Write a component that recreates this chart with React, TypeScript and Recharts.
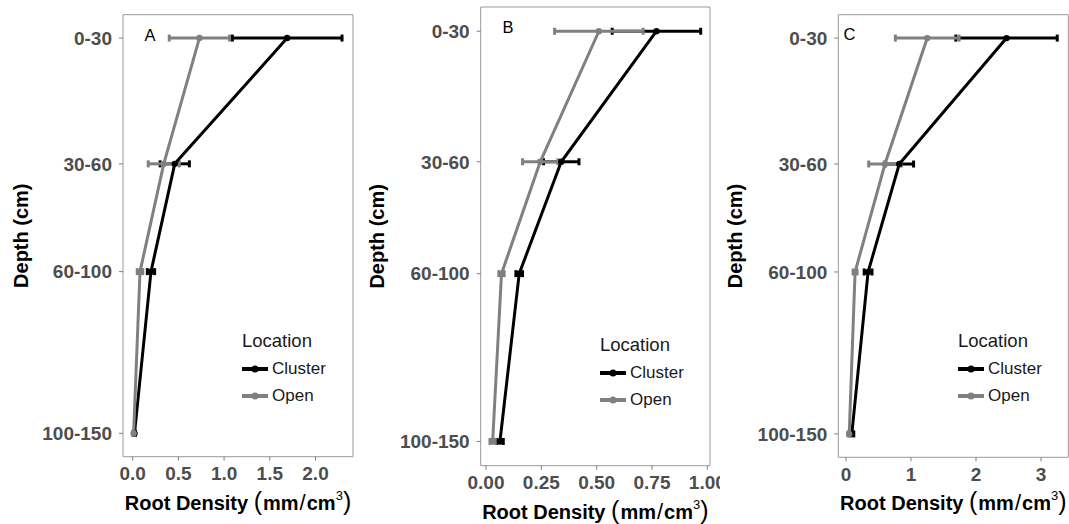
import React from 'react';
import {
  ScatterChart,
  Scatter,
  XAxis,
  YAxis,
  ErrorBar,
  ReferenceArea,
  ReferenceDot,
  Legend,
} from 'recharts';

// depth classes and their (uneven) spacing on the y scale
const depthLabels = ['0-30', '30-60', '60-100', '100-150'];
const depthSteps = [0, 7, 13, 22];

// Panel A
const clusterMeanA = [1.69, 0.46, 0.2, 0.02];
const clusterErrA = [0.6, 0.16, 0.04, 0.01];
const openMeanA = [0.73, 0.34, 0.08, 0.01];
const openErrA = [0.33, 0.17, 0.03, 0.01];
const xTicksA = [0, 0.5, 1, 1.5, 2];

// Panel B
const clusterMeanB = [0.77, 0.34, 0.15, 0.063];
const clusterErrB = [0.2, 0.08, 0.015, 0.015];
const openMeanB = [0.51, 0.245, 0.07, 0.03];
const openErrB = [0.2, 0.08, 0.012, 0.012];
const xTicksB = [0, 0.25, 0.5, 0.75, 1];

// Panel C
const clusterMeanC = [2.47, 0.82, 0.34, 0.09];
const clusterErrC = [0.78, 0.22, 0.06, 0.03];
const openMeanC = [1.25, 0.6, 0.14, 0.05];
const openErrC = [0.49, 0.25, 0.03, 0.02];
const xTicksC = [0, 1, 2, 3];

const seriesNames = ['Cluster', 'Open'];
const seriesColors = ['#000000', '#808080'];

const FONT = '"Liberation Sans", Arial, Helvetica, sans-serif';
const Y_DOMAIN: [number, number] = [-1.3, 23.3];

const build = (means: number[], errs: number[]) =>
  means.map((v, i) => ({ x: v, err: errs[i], depth: depthSteps[i] }));

const XTitle = ({ viewBox }: any) => {
  const cx = viewBox.x + viewBox.width / 2;
  const y = viewBox.y + 53;
  return (
    <text x={cx} y={y} textAnchor="middle" fontFamily={FONT} fill="#000">
      <tspan fontWeight="bold" fontSize={20}>Root Density </tspan>
      <tspan fontSize={25}>(</tspan>
      <tspan fontWeight="bold" fontSize={20} dx={1}>mm</tspan>
      <tspan fontSize={22} dx={1}>/</tspan>
      <tspan fontWeight="bold" fontSize={20} dx={1}>cm</tspan>
      <tspan fontSize={13} dy={-10}>3</tspan>
      <tspan fontSize={25} dy={10}>)</tspan>
    </text>
  );
};

const YTitle = ({ viewBox }: any) => {
  const x = viewBox.x + 28.5;
  const y = viewBox.y + viewBox.height / 2;
  return (
    <text
      x={x}
      y={y}
      transform={`rotate(-90, ${x}, ${y})`}
      textAnchor="middle"
      fontFamily={FONT}
      fontWeight="bold"
      fontSize={20}
      fill="#000"
    >
      Depth (cm)
    </text>
  );
};

const LegendBox = () => (
  <div style={{ fontFamily: FONT, color: '#1a1a1a' }}>
    <div style={{ fontSize: 18.5, height: 24, lineHeight: '24px', marginBottom: 2 }}>Location</div>
    {seriesNames.map((name, i) => (
      <div key={name} style={{ display: 'flex', alignItems: 'center', height: 27 }}>
        <svg width={26} height={10} style={{ marginRight: 4 }}>
          <line x1={0} y1={5} x2={26} y2={5} stroke={seriesColors[i]} strokeWidth={4} />
          <circle cx={13} cy={5} r={3.5} fill={seriesColors[i]} />
        </svg>
        <span style={{ fontSize: 17 }}>{name}</span>
      </div>
    ))}
  </div>
);

const Dot = (color: string) => (p: any) => <circle cx={p.cx} cy={p.cy} r={3.2} fill={color} />;

type PanelProps = {
  letter: string;
  letterAt: [number, number];
  left: number;
  width: number;
  margin: { top: number; right: number; bottom: number; left: number };
  yWidth: number;
  xDomain: [number, number];
  xTicks: number[];
  digits: number;
  series: { x: number; err: number; depth: number }[][];
  legendAt: [number, number];
};

const Panel = ({ letter, letterAt, left, width, margin, yWidth, xDomain, xTicks, digits, series, legendAt }: PanelProps) => (
  <div style={{ position: 'absolute', left, top: 0 }}>
    <ScatterChart width={width} height={524} margin={margin}>
      <XAxis
        type="number"
        dataKey="x"
        domain={xDomain}
        ticks={xTicks}
        allowDataOverflow
        interval={0}
        height={55}
        axisLine={false}
        tickSize={4}
        tickMargin={6}
        tickLine={{ stroke: '#7f7f7f' }}
        tickFormatter={(v: number) => v.toFixed(digits)}
        tick={{ fill: '#4d4d4d', fontSize: 19, fontWeight: 'bold', fontFamily: FONT }}
        label={<XTitle />}
      />
      <YAxis
        type="number"
        dataKey="depth"
        reversed
        domain={Y_DOMAIN}
        ticks={depthSteps}
        allowDataOverflow
        interval={0}
        width={yWidth}
        axisLine={false}
        tickSize={4}
        tickMargin={7}
        tickLine={{ stroke: '#7f7f7f' }}
        tickFormatter={(v: number) => depthLabels[depthSteps.indexOf(v)]}
        tick={{ fill: '#4d4d4d', fontSize: 19, fontWeight: 'bold', fontFamily: FONT }}
        label={<YTitle />}
      />
      <ReferenceArea
        x1={xDomain[0]}
        x2={xDomain[1]}
        y1={Y_DOMAIN[0]}
        y2={Y_DOMAIN[1]}
        fill="none"
        stroke="#9a9a9a"
        strokeWidth={1}
        ifOverflow="visible"
      />
      <ReferenceDot
        x={letterAt[0]}
        y={letterAt[1]}
        r={0}
        fill="none"
        stroke="none"
        ifOverflow="visible"
        label={{ value: letter, fill: '#000', fontSize: 16.5, fontFamily: FONT }}
      />
      {series.map((data, i) => (
        <Scatter
          key={seriesNames[i]}
          name={seriesNames[i]}
          data={data}
          fill={seriesColors[i]}
          line={{ stroke: seriesColors[i], strokeWidth: 3 }}
          lineType="joint"
          shape={Dot(seriesColors[i])}
          isAnimationActive={false}
        >
          <ErrorBar dataKey="err" direction="x" width={3.5} strokeWidth={3} stroke={seriesColors[i]} />
        </Scatter>
      ))}
      <Legend
        layout="vertical"
        align="center"
        verticalAlign="middle"
        content={() => <LegendBox />}
        wrapperStyle={{ left: legendAt[0], top: legendAt[1], width: 110, height: 80 }}
      />
    </ScatterChart>
  </div>
);

export default function App() {
  return (
    <div style={{ position: 'absolute', left: 0, top: 0, width: 1069, height: 524, background: '#fff' }}>
      <Panel
        letter="A"
        letterAt={[0.19, -0.14]}
        left={0}
        width={356}
        margin={{ top: 14.7, right: 3, bottom: 12.3, left: 0 }}
        yWidth={123}
        xDomain={[-0.106, 2.41]}
        xTicks={xTicksA}
        digits={1}
        series={[build(clusterMeanA, clusterErrA), build(openMeanA, openErrA)]}
        legendAt={[242, 329]}
      />
      <Panel
        letter="B"
        letterAt={[0.099, -0.21]}
        left={356}
        width={364}
        margin={{ top: 7, right: 10, bottom: 3.3, left: 0 }}
        yWidth={124.7}
        xDomain={[-0.024, 1.012]}
        xTicks={xTicksB}
        digits={2}
        series={[build(clusterMeanB, clusterErrB), build(openMeanB, openErrB)]}
        legendAt={[244, 333]}
      />
      <Panel
        letter="C"
        letterAt={[0.054, -0.22]}
        left={713}
        width={356}
        margin={{ top: 14.7, right: 0.7, bottom: 11.7, left: 0 }}
        yWidth={125.3}
        xDomain={[-0.118, 3.42]}
        xTicks={xTicksC}
        digits={0}
        series={[build(clusterMeanC, clusterErrC), build(openMeanC, openErrC)]}
        legendAt={[245, 329]}
      />
    </div>
  );
}
